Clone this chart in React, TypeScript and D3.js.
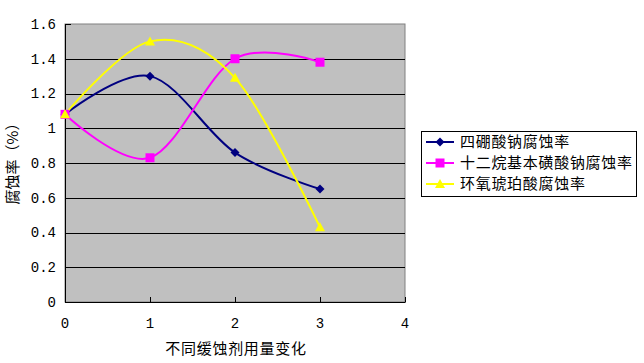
import * as d3 from 'd3';

// x positions (dosage level) and corrosion rates (%)
const xValues = [0, 1, 2, 3];
const boraxRate = [1.08, 1.3, 0.86, 0.65];
const dodecylRate = [1.08, 0.83, 1.4, 1.38];
const succinicRate = [1.08, 1.5, 1.29, 0.43];

const yTicks = [0, 0.2, 0.4, 0.6, 0.8, 1, 1.2, 1.4, 1.6];
const xTicks = [0, 1, 2, 3, 4];

const seriesNames = ['四硼酸钠腐蚀率', '十二烷基本磺酸钠腐蚀率', '环氧琥珀酸腐蚀率'];
const seriesColors = ['#000080', '#FF00FF', '#FFFF00'];
const seriesMarkers = ['diamond', 'square', 'triangle'];

const W = 644;
const H = 363;
const plot = { left: 65, top: 24, right: 405, bottom: 302 };
const cjk = '"Noto Sans CJK SC", sans-serif';
const num = '"Liberation Mono", monospace';

function Marker({ kind, x, y, color }: { kind: string; x: number; y: number; color: string }) {
  if (kind === 'diamond') {
    return <path d={`M${x},${y - 4.5}L${x + 4.5},${y}L${x},${y + 4.5}L${x - 4.5},${y}Z`} fill={color} />;
  }
  if (kind === 'square') {
    return <rect x={x - 4.5} y={y - 4.5} width={9} height={9} fill={color} />;
  }
  return <path d={`M${x},${y - 5}L${x + 5},${y + 4}L${x - 5},${y + 4}Z`} fill={color} />;
}

export default function App() {
  const x = d3.scaleLinear().domain([0, 4]).range([plot.left, plot.right]);
  const y = d3.scaleLinear().domain([0, 1.6]).range([plot.bottom, plot.top]);
  const series = [boraxRate, dodecylRate, succinicRate];

  const line = d3
    .line<[number, number]>()
    .x((d) => x(d[0]))
    .y((d) => y(d[1]))
    .curve(d3.curveCatmullRom.alpha(0));

  return (
    <div style={{ position: 'fixed', left: 0, top: 0, width: W, height: H, background: '#fff' }}>
      <svg width={W} height={H} viewBox={`0 0 ${W} ${H}`} style={{ display: 'block' }}>
        <rect x={0} y={0} width={W} height={H} fill="#fff" />
        {/* plot area */}
        <rect
          x={plot.left}
          y={plot.top}
          width={plot.right - plot.left}
          height={plot.bottom - plot.top}
          fill="#C0C0C0"
          stroke="#808080"
          strokeWidth={1}
        />
        {/* gridlines */}
        {yTicks
          .filter((t) => t > 0 && t < 1.6)
          .map((t) => (
            <line key={t} x1={plot.left} x2={plot.right} y1={Math.round(y(t)) + 0.5} y2={Math.round(y(t)) + 0.5} stroke="#000" />
          ))}
        {/* axes */}
        <line x1={plot.left + 0.5} x2={plot.left + 0.5} y1={plot.top} y2={plot.bottom + 0.5} stroke="#000" />
        <line x1={plot.left} x2={plot.right + 0.5} y1={plot.bottom + 0.5} y2={plot.bottom + 0.5} stroke="#000" />
        {yTicks.map((t) => (
          <line key={'yt' + t} x1={plot.left} x2={plot.left + 6} y1={Math.round(y(t)) + 0.5} y2={Math.round(y(t)) + 0.5} stroke="#000" />
        ))}
        {xTicks.map((t) => (
          <line key={'xt' + t} x1={Math.round(x(t)) + 0.5} x2={Math.round(x(t)) + 0.5} y1={plot.bottom} y2={plot.bottom - 5} stroke="#000" />
        ))}
        {/* tick labels */}
        {yTicks.map((t) => (
          <text key={'yl' + t} x={56} y={y(t)} dy="0.35em" textAnchor="end" fontFamily={num} fontSize={14} fill="#000">
            {String(t)}
          </text>
        ))}
        {xTicks.map((t) => (
          <text key={'xl' + t} x={x(t)} y={323} dy="0.35em" textAnchor="middle" fontFamily={num} fontSize={14} fill="#000">
            {String(t)}
          </text>
        ))}
        {/* axis titles */}
        <text x={236} y={349} dy="0.35em" textAnchor="middle" fontFamily={cjk} fontSize={15} letterSpacing={0.7} fill="#000">
          不同缓蚀剂用量变化
        </text>
        <text
          transform="translate(13,160) rotate(-90)"
          textAnchor="middle"
          dy="0.35em"
          fontFamily={cjk}
          fontSize={15}
          fill="#000"
        >
          腐蚀率（%）
        </text>
        {/* series */}
        {series.map((vals, i) => {
          const pts = vals.map((v, j) => [xValues[j], v] as [number, number]);
          return (
            <g key={i}>
              <path d={line(pts) ?? ''} fill="none" stroke={seriesColors[i]} strokeWidth={2} />
            </g>
          );
        })}
        {series.map((vals, i) => (
          <g key={'m' + i}>
            {vals.map((v, j) => (
              <Marker key={j} kind={seriesMarkers[i]} x={x(xValues[j])} y={y(v)} color={seriesColors[i]} />
            ))}
          </g>
        ))}
        {/* legend */}
        <rect x={421.5} y={131.5} width={215} height={65} fill="#fff" stroke="#000" />
        {seriesNames.map((name, i) => {
          const ly = 142 + i * 21;
          return (
            <g key={name}>
              <line x1={426} x2={454} y1={ly} y2={ly} stroke={seriesColors[i]} strokeWidth={2} />
              <Marker kind={seriesMarkers[i]} x={440} y={ly} color={seriesColors[i]} />
              <text x={460} y={ly} dy="0.35em" fontFamily={cjk} fontSize={15} letterSpacing={0.7} fill="#000">
                {name}
              </text>
            </g>
          );
        })}
      </svg>
    </div>
  );
}
